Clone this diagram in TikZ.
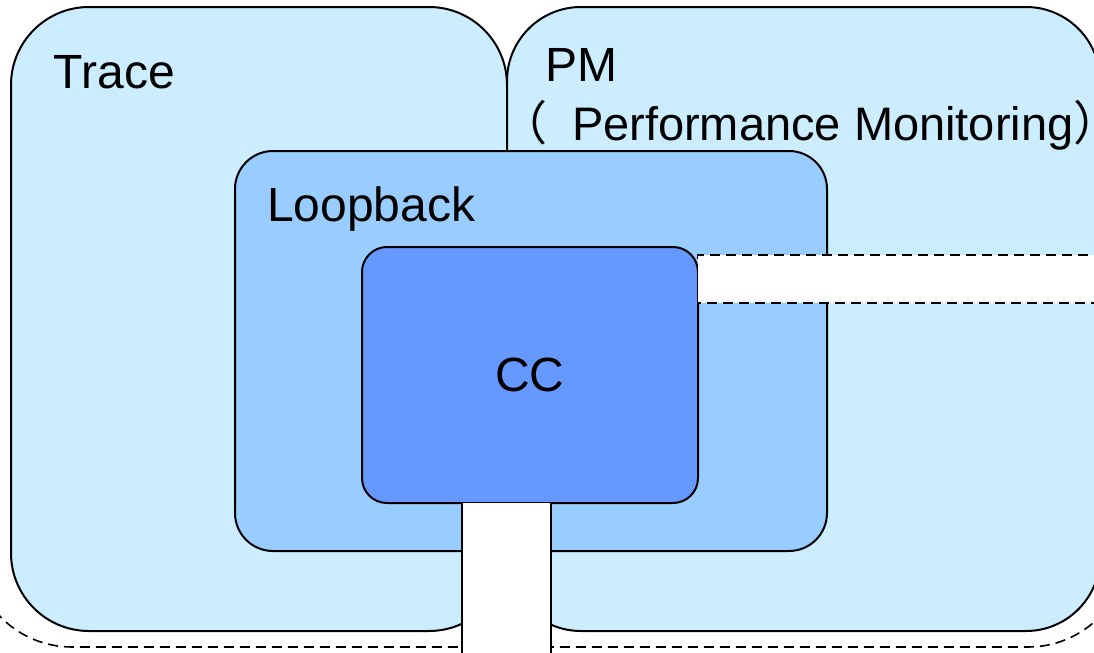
\documentclass[tikz,border=0pt]{standalone}
\usepackage{fontspec}
\setmainfont{Liberation Sans}
\newfontfamily\cjk{Noto Sans CJK SC}
\definecolor{outerblue}{HTML}{CCECFF}
\definecolor{loopblue}{HTML}{99CCFF}
\definecolor{ccblue}{HTML}{6699FF}
\begin{document}
\begin{tikzpicture}[x=0.5pt,y=-0.5pt,
  box/.style={draw=black, line width=1pt, inner sep=0pt, outer sep=0pt},
  lbl/.style={inner sep=0pt, outer sep=0pt, anchor=base west, font=\fontsize{24pt}{29pt}\selectfont},
  strip/.style={line width=1pt},
  dashline/.style={line width=0.8pt, dash pattern=on 5pt off 3pt}]
\useasboundingbox (0,0) rectangle (1094,653);
\clip (0,0) rectangle (1094,653);
% outer dashed frame (only its lower part is visible)
\draw[dashline, rounded corners=50pt] (-28,-300) rectangle (1128,647);
% boxes
\node[box, fill=outerblue, rounded corners=39pt, minimum width=248pt, minimum height=312pt] (trace) at (259,319) {};
\node[box, fill=outerblue, rounded corners=37pt, minimum width=296.5pt, minimum height=312pt] (pm) at (803.5,319) {};
\node[box, fill=loopblue, rounded corners=19pt, minimum width=296pt, minimum height=200pt] (loop) at (531,351) {};
\node[box, fill=ccblue, rounded corners=12.5pt, minimum width=168pt, minimum height=128pt,
  font=\fontsize{24pt}{29pt}\selectfont] (cc) at (530,375) {CC};
% labels
\node[lbl] (tracelbl) at (54,88) {Trace};
\node[lbl] (pmlbl) at (545,82) {PM};
\node[lbl, font=\fontsize{23.5pt}{29pt}\selectfont] (pmlong) at (500,140) {{\cjk （}\kern12.5pt Performance Monitoring{\cjk ）}};
\node[lbl] (looplbl) at (267,221) {Loopback};
% vertical white strip below CC
\fill[white] (462,503) rectangle (551,700);
\draw[strip] (462,503) -- (462,700);
\draw[strip] (551,503) -- (551,700);
% horizontal white strip right of CC
\fill[white] (697.5,255) rectangle (1120,303);
\draw[dashline] (1120,255) -- (697.5,255) -- (697.5,303) -- (1120,303);
\end{tikzpicture}
\end{document}
